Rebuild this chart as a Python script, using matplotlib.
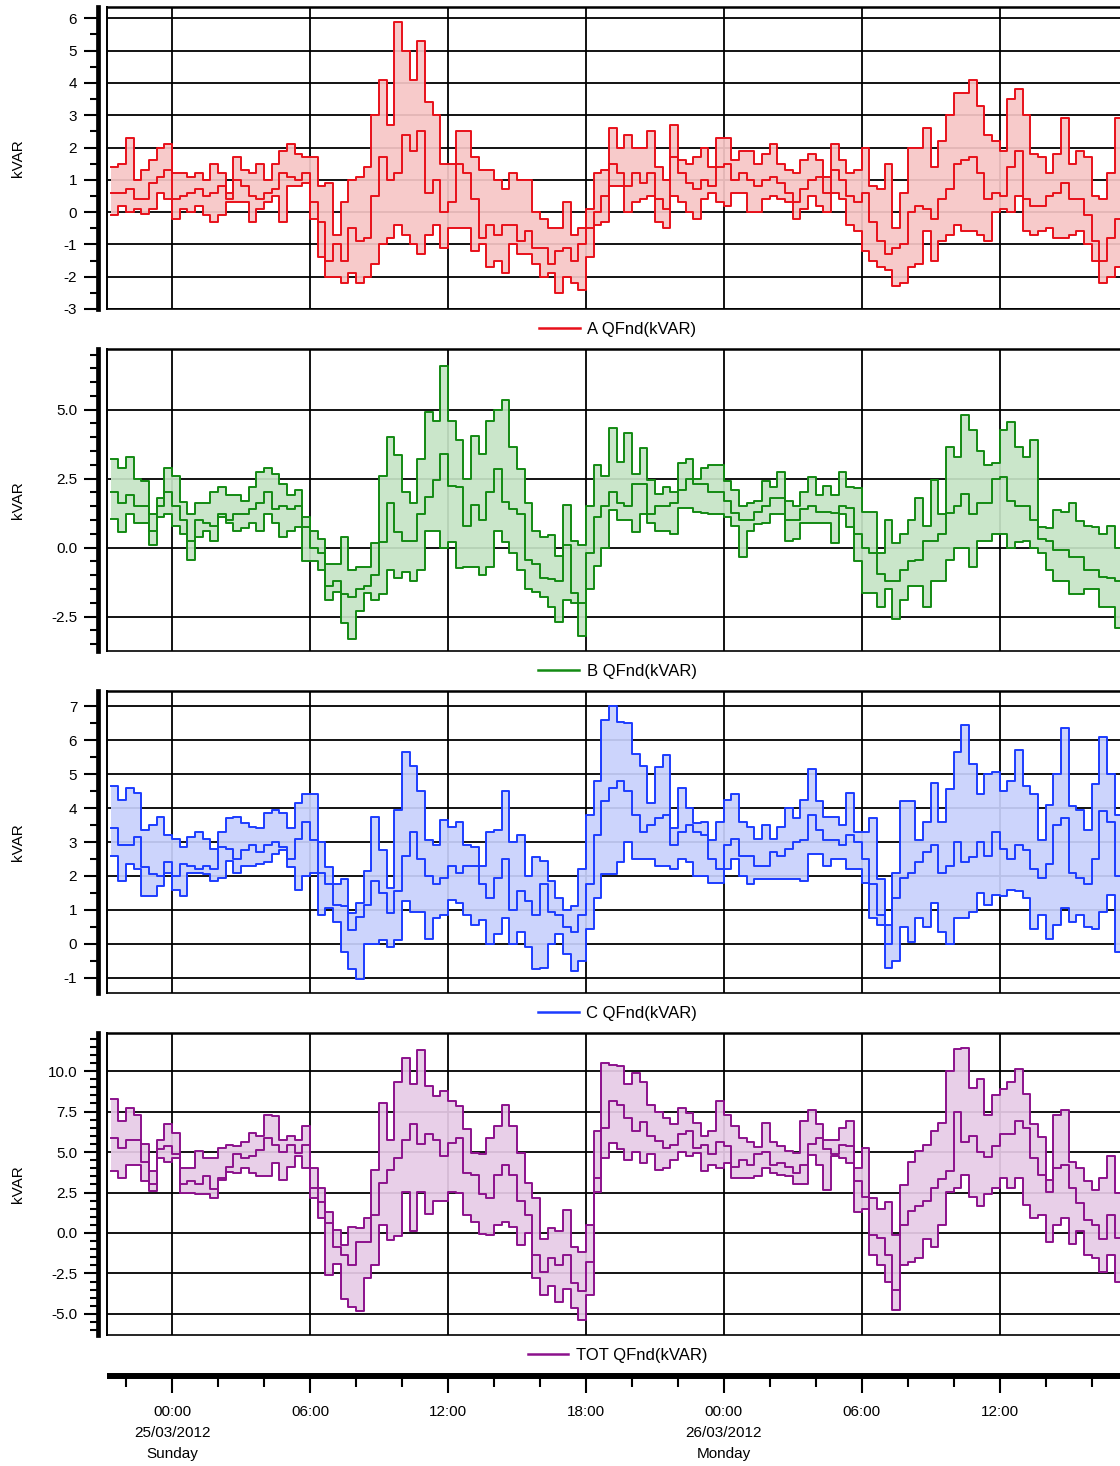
import pandas as pd
import matplotlib
from matplotlib import pyplot as plt
from matplotlib.ticker import MultipleLocator, FormatStrFormatter
from matplotlib import dates as mdates

matplotlib.use('agg')
plt.rcParams['font.family'] = ['Liberation Sans', 'DejaVu Sans']
plt.rcParams['axes.unicode_minus'] = False

# 20 minute samples, 24/03/2012 21:20 onwards
times = pd.date_range('2012-03-24 21:20', periods=133, freq='20min')

a_max = [1.4, 1.5, 2.3, 1.0, 1.3, 1.6, 2.0, 2.1, 1.2, 1.2,
         1.1, 1.2, 1.0, 1.5, 1.2, 0.6, 1.7, 1.3, 1.2, 1.5,
         1.0, 1.5, 1.9, 2.1, 1.8, 1.7, 1.7, 0.8, 0.9, -0.7,
         0.3, 1.0, 1.1, 1.4, 3.0, 4.1, 2.7, 5.9, 5.0, 4.1,
         5.3, 3.4, 3.0, 1.5, 1.5, 2.5, 2.5, 1.7, 1.3, 1.3,
         1.0, 0.7, 1.2, 1.0, 1.0, 0.0, -0.2, -0.5, -0.5, 0.3,
         -0.7, -0.5, 0.1, 1.2, 1.3, 2.6, 2.0, 2.4, 2.0, 2.0,
         2.5, 1.4, 1.0, 2.7, 1.6, 1.5, 1.7, 2.0, 1.4, 2.3,
         2.3, 1.6, 1.9, 1.9, 1.5, 1.8, 2.1, 1.5, 1.3, 1.2,
         1.6, 1.8, 1.6, 1.1, 2.1, 1.6, 1.2, 1.3, 2.0, 0.8,
         0.7, 1.5, -0.5, 0.6, 2.0, 2.0, 2.6, 1.4, 2.2, 3.0,
         3.7, 3.7, 4.1, 3.3, 2.4, 2.2, 1.9, 3.5, 3.8, 3.0,
         1.8, 1.7, 1.2, 1.8, 2.9, 1.5, 1.9, 1.7, 0.5, 0.4,
         1.2, 2.9, 2.0]
a_avg = [0.6, 0.6, 0.7, 0.4, 0.4, 0.9, 1.1, 1.3, 0.4, 0.5,
         0.6, 0.7, 0.5, 0.6, 0.8, 0.4, 1.0, 0.8, 0.5, 0.4,
         0.6, 0.7, 1.2, 1.1, 1.0, 1.2, 0.3, -0.3, -1.5, -1.0,
         -1.5, -0.5, -0.9, -0.8, 0.5, 1.7, 1.0, 1.2, 2.4, 1.9,
         2.5, 0.6, 1.0, 0.0, 0.3, 1.5, 1.2, 0.4, -0.8, -0.4,
         -0.7, -0.4, -0.4, -0.9, -0.6, -1.1, -1.1, -1.6, -1.2, -1.1,
         -1.5, -1.0, -0.5, 0.0, 0.5, 1.5, 1.2, 0.8, 1.2, 0.9,
         1.2, 0.4, 0.1, 1.7, 1.2, 0.9, 0.7, 1.0, 0.8, 1.4,
         1.5, 1.0, 1.2, 1.0, 0.8, 1.0, 1.1, 0.9, 0.6, 0.3,
         0.7, 1.0, 1.1, 0.6, 1.3, 1.0, 0.5, 0.3, 0.6, -0.3,
         -0.9, -1.3, -1.1, -1.0, 0.0, 0.2, 0.1, -0.2, 0.4, 0.7,
         1.5, 1.6, 1.7, 1.2, 0.4, 0.6, 0.5, 1.4, 1.9, 0.4,
         0.2, 0.2, 0.5, 0.6, 0.9, 0.4, 0.4, -0.1, -0.9, -1.5,
         -0.8, -0.2, 0.5]
a_min = [-0.1, 0.2, 0.0, 0.1, -0.05, 0.1, 0.6, 0.4, -0.2, 0.1,
         0.0, 0.2, -0.1, -0.3, -0.1, 0.3, 0.3, 0.3, -0.3, 0.1,
         0.3, 0.5, -0.3, 0.8, 0.8, 0.9, -0.2, -1.4, -2.0, -2.0,
         -2.2, -1.9, -2.2, -2.0, -1.6, -1.0, -0.8, -0.4, -0.7, -1.0,
         -1.3, -0.7, -0.4, -1.1, -0.5, -0.5, -0.5, -1.2, -1.0, -1.7,
         -1.5, -1.9, -1.0, -1.3, -1.3, -1.6, -2.0, -1.9, -2.5, -2.0,
         -2.2, -2.4, -1.4, -0.4, -0.3, 0.8, 0.8, 0.0, 0.3, 0.4,
         0.5, -0.3, -0.5, 0.5, 0.3, 0.0, -0.2, 0.4, 0.6, 0.3,
         0.2, 0.6, 0.6, 0.0, 0.0, 0.4, 0.5, 0.4, 0.3, -0.2,
         0.1, 0.5, 0.2, 0.0, 0.6, 0.4, -0.4, -0.6, -1.2, -1.5,
         -1.7, -1.8, -2.3, -2.2, -1.7, -1.6, -0.6, -1.5, -0.9, -0.7,
         -0.4, -0.6, -0.6, -0.7, -0.9, 0.0, 0.1, 0.0, 0.5, -0.6,
         -0.7, -0.6, -0.5, -0.8, -0.8, -0.7, -0.6, -1.0, -1.5, -2.2,
         -2.0, -1.7, -1.5]

b_max = [3.2, 2.9, 3.3, 2.5, 2.4, 1.2, 1.8, 2.9, 2.6, 1.65,
         1.2, 1.6, 1.6, 2.0, 2.2, 1.9, 1.9, 1.7, 2.2, 2.75,
         2.9, 2.65, 2.3, 1.9, 2.1, 1.1, 0.6, 0.3, -0.6, -0.6,
         0.4, -0.8, -0.7, -0.7, 0.15, 2.6, 4.0, 3.35, 2.0, 1.6,
         3.2, 4.9, 4.6, 6.6, 4.6, 3.9, 2.5, 4.05, 3.4, 4.6,
         5.0, 5.35, 3.65, 2.85, 1.6, 0.6, 0.4, 0.45, -0.3, 1.55,
         0.25, 0.1, 1.5, 3.0, 2.6, 4.35, 3.1, 4.15, 2.65, 3.6,
         2.45, 1.95, 2.2, 2.0, 3.05, 3.2, 2.5, 2.9, 3.0, 3.0,
         2.4, 2.1, 1.5, 1.6, 1.7, 2.4, 2.2, 2.75, 1.7, 1.5,
         2.0, 2.55, 1.9, 2.25, 1.9, 2.75, 2.2, 2.15, 1.3, 1.3,
         -0.2, 1.0, 0.15, 0.5, 1.0, 1.8, 0.8, 2.45, 1.2, 3.65,
         3.3, 4.8, 4.25, 3.5, 3.0, 3.05, 4.25, 4.55, 3.65, 3.3,
         3.9, 0.75, 0.7, 1.35, 1.3, 1.6, 0.95, 0.8, 0.75, 0.5,
         0.8, 0.0, -0.2]
b_avg = [2.0, 1.6, 1.9, 1.5, 1.5, 0.6, 1.5, 2.0, 1.5, 1.0,
         0.25, 1.0, 0.9, 0.8, 1.2, 1.0, 1.2, 1.2, 1.4, 1.6,
         2.0, 1.4, 1.5, 1.4, 1.5, 0.75, 0.0, -0.2, -1.4, -1.2,
         -1.7, -1.8, -1.5, -1.4, -1.0, 0.2, 1.6, 0.55, 0.25, 0.25,
         1.2, 1.85, 2.45, 3.4, 2.25, 2.2, 0.8, 1.55, 1.0, 2.0,
         2.85, 1.65, 1.4, 1.2, -0.45, -0.6, -1.1, -1.15, -1.2, 0.1,
         -1.65, -2.0, -0.2, 1.1, 1.5, 2.0, 1.6, 1.5, 2.3, 2.3,
         1.2, 1.5, 1.5, 1.6, 2.1, 2.5, 2.3, 2.3, 2.0, 2.0,
         1.7, 1.25, 1.0, 1.0, 1.3, 1.5, 1.8, 1.8, 1.0, 1.0,
         1.4, 1.5, 1.3, 1.3, 1.25, 1.5, 1.45, 0.5, 0.0, -0.2,
         -0.95, -1.2, -1.2, -0.8, -0.5, -0.45, 0.25, 0.25, 0.5, 1.25,
         1.5, 1.95, 1.2, 1.6, 1.6, 2.5, 2.55, 1.7, 1.5, 1.5,
         1.0, 0.3, 0.25, -0.1, -0.1, -0.35, -0.35, -0.8, -0.8, -1.05,
         -1.1, -1.2, -1.3]
b_min = [1.05, 0.55, 1.2, 0.9, 0.9, 0.1, 1.1, 1.2, 0.8, 0.5,
         -0.45, 0.4, 0.6, 0.25, 1.1, 0.9, 0.6, 0.7, 0.9, 0.6,
         1.2, 0.9, 0.4, 0.6, 0.75, -0.5, -0.5, -0.8, -1.9, -1.6,
         -2.75, -3.3, -2.3, -1.65, -1.9, -1.7, -0.8, -1.1, -0.9, -1.2,
         -0.8, 0.6, 0.6, 0.0, 0.2, -0.75, -0.7, -0.7, -1.0, -0.7,
         0.6, 0.2, -0.2, -0.8, -1.5, -1.6, -1.8, -2.15, -2.7, -1.9,
         -2.0, -3.2, -1.5, -0.65, 0.0, 1.35, 1.0, 1.0, 0.55, 1.2,
         0.9, 0.6, 0.6, 0.5, 1.45, 1.45, 1.3, 1.25, 1.2, 1.2,
         1.1, 0.8, -0.35, 0.6, 0.85, 0.9, 1.2, 1.2, 0.25, 0.3,
         0.9, 0.9, 0.9, 0.9, 0.15, 1.2, 0.75, -0.5, -1.65, -1.65,
         -2.15, -1.5, -2.6, -1.9, -1.4, -1.4, -2.15, -1.2, -1.2, -0.45,
         0.0, 0.0, -0.7, 0.25, 0.25, 0.5, 0.5, 0.0, 0.2, 0.25,
         0.0, -0.2, -0.8, -1.2, -1.2, -1.7, -1.7, -1.5, -1.5, -2.15,
         -2.15, -2.9, -2.9]

c_max = [4.65, 4.25, 4.6, 4.45, 3.35, 3.5, 3.75, 3.2, 3.1, 2.85,
         3.15, 3.3, 3.1, 2.8, 3.3, 3.7, 3.75, 3.55, 3.45, 3.4,
         3.85, 3.95, 3.85, 3.4, 4.15, 4.4, 4.4, 3.0, 2.25, 1.75,
         1.9, 0.9, 1.2, 2.15, 3.75, 2.75, 1.65, 3.95, 5.65, 5.25,
         4.5, 3.05, 2.9, 3.65, 3.45, 3.6, 2.9, 2.85, 2.3, 3.3,
         3.35, 4.5, 3.0, 3.2, 2.0, 2.55, 2.45, 1.85, 1.35, 1.0,
         1.1, 2.2, 3.8, 4.8, 6.6, 7.0, 6.55, 6.5, 5.6, 5.25,
         4.15, 5.2, 5.55, 3.4, 4.6, 4.0, 3.55, 3.6, 3.05, 3.6,
         4.25, 4.4, 3.6, 3.45, 3.1, 3.5, 3.1, 3.45, 4.0, 3.7,
         4.25, 5.15, 4.2, 3.75, 3.75, 3.5, 4.45, 3.3, 3.3, 3.7,
         1.9, 0.55, 2.1, 4.2, 4.2, 3.05, 3.6, 4.75, 3.6, 4.55,
         5.65, 6.45, 5.3, 4.4, 5.0, 5.05, 4.5, 4.8, 5.7, 4.65,
         4.4, 3.05, 4.1, 5.0, 6.35, 4.05, 3.95, 3.35, 4.7, 6.1,
         5.0, 3.8, 3.6]
c_avg = [3.4, 2.9, 2.9, 3.15, 2.25, 2.05, 2.0, 2.4, 2.0, 2.35,
         2.3, 2.2, 2.3, 2.2, 2.85, 2.8, 2.5, 2.75, 2.9, 2.7,
         2.9, 3.0, 2.85, 2.5, 3.1, 3.6, 3.05, 2.1, 1.75, 1.15,
         1.1, 0.4, 0.8, 1.15, 1.85, 1.5, 0.9, 1.55, 2.6, 3.3,
         2.5, 2.0, 1.75, 1.95, 2.3, 2.1, 2.3, 2.3, 1.75, 1.35,
         1.95, 2.5, 1.0, 1.55, 1.25, 0.85, 1.75, 0.95, 0.85, 0.5,
         0.35, 0.85, 1.75, 3.2, 4.2, 4.6, 4.8, 4.5, 3.8, 3.3,
         3.5, 3.7, 3.8, 2.9, 3.3, 3.5, 3.3, 3.2, 2.5, 2.2,
         2.9, 3.1, 2.6, 2.6, 2.3, 2.3, 2.7, 2.6, 2.8, 3.0,
         3.05, 3.8, 3.35, 3.05, 3.05, 2.9, 3.2, 3.0, 2.5, 1.75,
         0.85, 0.0, 1.35, 1.95, 2.1, 2.4, 2.7, 2.9, 2.1, 2.3,
         3.0, 2.4, 2.55, 3.0, 2.6, 3.3, 2.8, 2.5, 2.9, 2.75,
         2.2, 1.95, 2.35, 3.5, 3.7, 2.1, 1.95, 1.75, 2.5, 3.9,
         3.6, 2.0, 1.7]
c_min = [2.6, 1.85, 2.35, 2.2, 1.4, 1.4, 1.7, 2.1, 1.6, 1.4,
         2.1, 2.1, 2.05, 1.85, 1.95, 2.45, 2.1, 2.3, 2.3, 2.35,
         2.4, 2.65, 2.75, 2.25, 1.6, 2.0, 2.1, 0.85, 1.05, 0.65,
         -0.25, -0.75, -1.05, 0.0, 0.0, 0.1, -0.1, 0.1, 1.25, 0.95,
         0.95, 0.15, 0.75, 0.85, 1.3, 1.2, 0.85, 0.55, 0.7, 0.0,
         0.3, 0.75, 0.0, 0.35, -0.1, -0.75, -0.7, 0.0, 0.3, -0.3,
         -0.8, -0.5, 0.45, 1.35, 2.05, 2.05, 2.4, 3.0, 2.5, 2.5,
         2.5, 2.3, 2.3, 2.2, 2.5, 2.4, 2.0, 2.0, 1.8, 1.8,
         2.2, 2.5, 2.0, 1.75, 1.9, 1.9, 1.9, 1.9, 1.9, 1.9,
         1.85, 2.65, 2.65, 2.3, 2.5, 2.5, 2.2, 2.2, 1.8, 0.75,
         0.55, -0.7, -0.5, 0.5, 0.05, 0.75, 0.5, 1.2, 0.35, 0.0,
         0.75, 0.75, 0.95, 1.5, 1.15, 1.45, 1.4, 1.6, 1.55, 1.35,
         0.45, 0.85, 0.15, 0.55, 1.05, 0.65, 0.85, 0.5, 0.45, 0.95,
         1.45, -0.25, -0.3]

tot_max = [8.25, 6.9, 7.7, 7.3, 5.5, 3.8, 5.75, 6.7, 6.2, 4.0,
           4.0, 5.05, 4.6, 4.6, 5.25, 5.45, 5.4, 5.6, 6.2, 6.0,
           7.3, 7.2, 5.75, 6.0, 5.75, 6.6, 4.0, 2.8, 1.3, 0.2,
           -0.75, 0.4, 0.3, 0.95, 3.9, 8.05, 5.75, 9.3, 10.8, 9.2,
           11.3, 9.05, 8.45, 8.75, 8.15, 7.85, 6.4, 4.95, 4.9, 5.85,
           6.6, 7.9, 6.6, 4.95, 3.1, 2.15, -0.4, 0.3, 0.1, 1.4,
           -0.85, -1.15, 0.5, 6.3, 10.5, 10.4, 10.3, 9.2, 9.9, 9.3,
           7.9, 7.5, 7.1, 6.7, 7.7, 7.4, 6.8, 6.0, 6.3, 8.15,
           7.3, 6.6, 5.85, 5.6, 5.3, 6.8, 5.6, 5.35, 5.05, 4.95,
           6.9, 7.6, 6.7, 5.75, 5.75, 6.5, 6.9, 4.0, 5.25, 2.15,
           1.5, 1.9, -0.1, 2.95, 4.4, 5.05, 5.45, 6.3, 6.8, 10.0,
           11.35, 11.45, 8.95, 9.5, 7.3, 8.5, 8.9, 9.3, 10.1, 8.6,
           6.7, 5.95, 3.3, 7.3, 7.6, 4.4, 4.0, 3.2, 2.65, 3.4,
           4.75, 2.5, 2.4]
tot_avg = [5.85, 5.25, 5.75, 5.75, 4.4, 3.0, 5.2, 5.4, 4.9, 3.0,
           3.2, 3.0, 3.5, 2.7, 3.4, 4.1, 4.9, 4.6, 4.75, 5.1,
           5.85, 5.45, 5.0, 5.45, 4.95, 5.45, 2.75, 1.9, 0.6, -0.85,
           -1.35, -2.0, -0.55, -0.55, 1.1, 3.1, 3.9, 4.6, 5.75, 6.7,
           5.5, 6.1, 5.75, 4.75, 5.55, 5.85, 3.7, 3.6, 2.4, 2.15,
           3.6, 4.2, 3.6, 2.0, 1.1, -1.35, -2.4, -1.55, -2.0, -1.35,
           -3.1, -3.6, -1.8, 3.4, 6.5, 8.15, 7.9, 7.1, 6.3, 6.85,
           6.0, 5.7, 5.25, 5.45, 6.1, 6.3, 5.25, 5.45, 4.9, 5.6,
           5.4, 4.05, 4.5, 4.2, 4.9, 5.0, 4.2, 4.3, 4.1, 3.7,
           4.2, 5.5, 5.85, 5.2, 4.9, 5.45, 5.4, 3.2, 2.2, -0.1,
           -0.3, -1.35, -3.5, 0.5, 1.35, 1.65, 1.95, 2.75, 3.35, 3.8,
           7.5, 5.6, 6.0, 5.0, 4.7, 5.4, 6.1, 6.1, 6.9, 6.5,
           4.6, 3.6, 2.55, 4.0, 4.2, 2.75, 1.85, 0.8, 0.5, -0.35,
           1.1, -0.3, -0.3]
tot_min = [3.8, 3.4, 4.2, 4.2, 3.2, 2.6, 4.6, 4.4, 4.6, 2.45,
           2.45, 2.4, 2.4, 2.15, 3.3, 3.75, 3.7, 4.0, 3.7, 3.5,
           3.5, 4.35, 3.3, 4.1, 4.75, 4.0, 2.15, 0.9, -2.6, -1.9,
           -4.05, -4.6, -4.8, -2.8, -2.0, 0.5, -0.45, -0.2, 2.55, 0.1,
           2.55, 1.2, 1.95, 2.0, 2.55, 2.5, 1.1, 0.7, -0.05, -0.1,
           0.5, 0.7, 0.4, -0.75, 0.0, -2.8, -3.85, -3.3, -4.25, -3.45,
           -4.65, -5.4, -3.85, 2.55, 4.6, 5.55, 5.2, 4.5, 5.0, 4.3,
           4.85, 3.9, 4.0, 4.5, 5.0, 4.75, 4.95, 3.8, 4.2, 4.0,
           4.3, 3.4, 3.4, 3.4, 3.5, 4.0, 3.7, 3.6, 3.5, 3.05,
           3.0, 4.8, 4.2, 2.65, 4.75, 4.6, 4.3, 1.3, 1.5, -1.35,
           -2.0, -3.0, -4.75, -2.0, -1.8, -1.55, -0.35, -0.85, 0.5, 2.55,
           2.75, 3.6, 2.2, 1.65, 2.4, 2.75, 3.4, 2.75, 3.4, 1.75,
           0.9, 1.1, -0.55, 0.5, 0.9, -0.65, 0.1, -1.35, -1.55, -2.4,
           -1.35, -3.0, -3.85]

x_ticks = pd.date_range('2012-03-25 00:00', '2012-03-26 12:00', freq='6h')
x_tick_labels = ['00:00\n25/03/2012\nSunday', '06:00', '12:00', '18:00',
                 '00:00\n26/03/2012\nMonday', '06:00', '12:00']

t_start = pd.Timestamp('2012-03-24 21:10')
t_end = pd.Timestamp('2012-03-26 17:35')

panels = [
    ('A QFnd(kVAR)', a_max, a_avg, a_min, '#e8101a', '#f7c6c6', (-3.0, 6.35), 1.0, '%d'),
    ('B QFnd(kVAR)', b_max, b_avg, b_min, '#138a13', '#c6e4c6', (-3.75, 7.2), 2.5, '%.1f'),
    ('C QFnd(kVAR)', c_max, c_avg, c_min, '#1c3cff', '#c8d1fc', (-1.45, 7.45), 1.0, '%d'),
    ('TOT QFnd(kVAR)', tot_max, tot_avg, tot_min, '#8c118c', '#e7cbe7', (-6.3, 12.35), 2.5, '%.1f'),
]

W, H = 1120, 1466
fig = plt.figure(figsize=(W / 100, H / 100), dpi=100)
left = 107 / W
width = (1128 - 107) / W
height = 302 / H
bottoms_px = [309, 651, 993, 1335]

for (name, mx, av, mn, lc, fc, ylim, step, fmt), bpx in zip(panels, bottoms_px):
    ax = fig.add_axes([left, 1 - bpx / H, width, height])
    # band drawn over the grid so the grid only shows faintly through it
    ax.fill_between(times, mn, mx, step='post', color=fc, alpha=0.92, lw=0, zorder=2)
    h, = ax.step(times, mx, where='post', color=lc, lw=1.4, zorder=3, label=name)
    ax.step(times, av, where='post', color=lc, lw=1.4, zorder=3)
    ax.step(times, mn, where='post', color=lc, lw=1.4, zorder=3)

    ax.set_xlim(t_start, t_end)
    ax.set_ylim(*ylim)
    ax.set_xticks(x_ticks)
    ax.tick_params(axis='x', which='both', bottom=False, labelbottom=False)
    ax.yaxis.set_major_locator(MultipleLocator(step))
    ax.yaxis.set_minor_locator(MultipleLocator(0.5))
    ax.yaxis.set_major_formatter(FormatStrFormatter(fmt))
    ax.tick_params(axis='y', which='major', length=10, width=1.5, pad=5, labelsize=11)
    ax.tick_params(axis='y', which='minor', length=6, width=1.5)
    ax.grid(True, which='major', color='black', lw=1.3, zorder=1)
    ax.set_axisbelow(True)

    ax.spines['left'].set_position(('outward', 6.5))
    ax.spines['left'].set_linewidth(3.4)
    ax.spines['right'].set_visible(False)
    ax.spines['top'].set_linewidth(1.8)
    ax.spines['bottom'].set_linewidth(1.2)
    # frame edge of the plotting area
    ax.plot([0, 0], [0, 1], transform=ax.transAxes, color='black', lw=1.4,
            clip_on=False, zorder=5)

    ax.set_ylabel('kVAR', fontsize=11)
    ax.yaxis.set_label_coords(-0.080, 0.5)
    leg = ax.legend(handles=[h], loc='center', bbox_to_anchor=(0.5, -0.068),
                    frameon=False, fontsize=12, handlelength=2.45,
                    handletextpad=0.46, borderpad=0)
    leg.get_lines()[0].set_linewidth(1.8)

# shared time axis at the bottom
axx = fig.add_axes([left, 1 - 1376 / H, width, 0.0001])
axx.set_xlim(t_start, t_end)
axx.set_ylim(0, 1)
for s in ['top', 'right', 'left']:
    axx.spines[s].set_visible(False)
axx.spines['bottom'].set_linewidth(4.3)
axx.spines['bottom'].set_capstyle('butt')
axx.set_yticks([])
axx.patch.set_visible(False)
axx.set_xticks(x_ticks, x_tick_labels, linespacing=1.65)
axx.xaxis.set_minor_locator(mdates.HourLocator(byhour=range(0, 24, 2)))
axx.tick_params(axis='x', which='major', length=12, width=1.5, pad=9, labelsize=11)
axx.tick_params(axis='x', which='minor', length=8, width=1.5)

fig.savefig('out.png', dpi=100)
